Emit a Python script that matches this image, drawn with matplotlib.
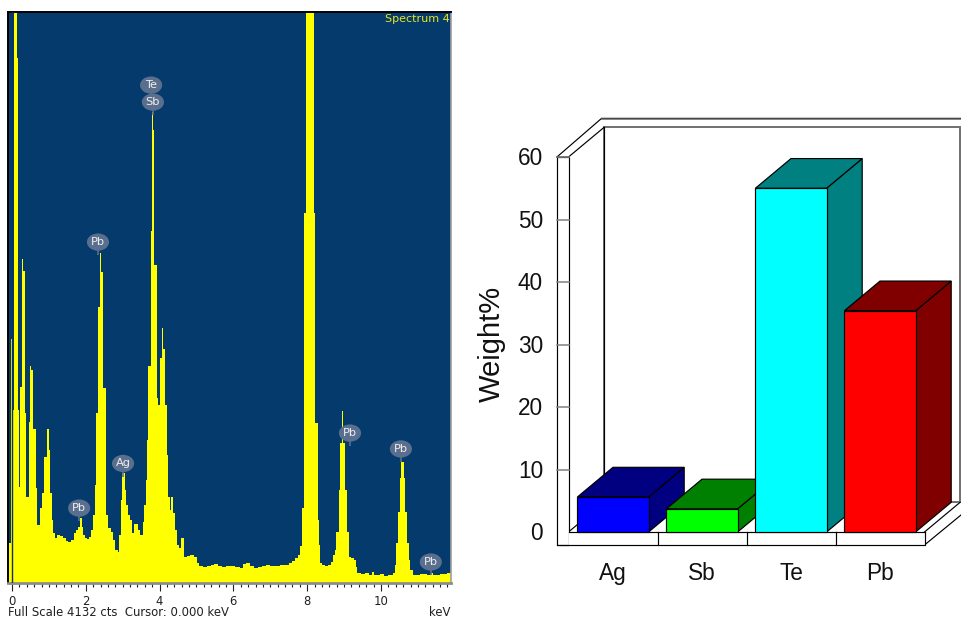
import matplotlib
matplotlib.use("Agg")
import matplotlib.pyplot as plt
from matplotlib.patches import Ellipse, Polygon

plt.rcParams['font.family'] = ['Liberation Sans', 'DejaVu Sans']
SMALL = 'DejaVu Sans'

# ---- EDS spectrum (left edge of each step in keV, counts) ----
energy = [-0.11,-0.03,0.0,0.04,0.05,0.14,0.15,0.19,0.22,0.27,0.29,0.35,0.38,0.45,0.47,0.49,0.51,0.57,0.65,0.68,
          0.76,0.81,0.87,0.96,1.00,1.03,1.08,1.11,1.17,1.22,1.30,1.38,1.46,1.52,1.60,1.68,1.73,1.79,1.84,1.90,
          1.92,1.98,2.03,2.09,2.14,2.20,2.25,2.29,2.33,2.38,2.41,2.47,2.55,2.60,2.68,2.74,2.79,2.87,2.91,2.95,
          2.99,3.06,3.09,3.14,3.20,3.25,3.32,3.41,3.47,3.54,3.58,3.63,3.66,3.69,3.77,3.79,3.82,3.86,3.93,3.96,
          4.01,4.06,4.10,4.16,4.19,4.23,4.28,4.31,4.36,4.42,4.47,4.53,4.58,4.66,4.74,4.82,4.93,5.01,5.07,5.18,
          5.28,5.39,5.47,5.58,5.69,5.80,5.91,6.04,6.18,6.26,6.34,6.45,6.56,6.67,6.78,6.88,6.99,7.13,7.26,7.40,
          7.51,7.59,7.67,7.75,7.80,7.85,7.91,7.98,8.18,8.22,8.28,8.32,8.35,8.40,8.48,8.56,8.64,8.70,8.75,8.79,
          8.85,8.89,8.93,8.97,9.02,9.08,9.13,9.19,9.27,9.32,9.35,9.46,9.57,9.67,9.76,9.81,9.97,10.08,10.19,10.33,
          10.37,10.41,10.45,10.52,10.54,10.61,10.66,10.70,10.75,10.79,10.87,11.05,11.25,11.35,11.40,11.60,11.80,11.90]
counts = [289,1766,0,1252,4300,3799,1252,695,1418,2344,2258,1230,622,687,1165,1570,1541,1114,687,420,
          543,651,912,1114,962,651,456,362,326,347,340,326,304,297,311,362,384,405,470,405,
          347,326,318,333,384,492,709,1230,1997,2388,2250,1411,492,398,369,311,239,224,347,601,
          796,673,564,492,456,362,427,384,347,441,564,745,1035,1570,2547,3408,3278,2301,1339,1288,
          1628,1845,1693,1288,926,622,528,622,507,384,275,253,326,188,195,203,188,145,123,116,
          123,130,137,123,116,123,123,116,109,137,145,123,109,116,123,130,123,123,127,130,
          145,159,181,203,268,543,2677,4400,2677,1158,456,275,145,130,123,130,152,203,239,369,
          673,1013,1245,1013,673,369,188,181,166,116,72,65,72,58,80,58,65,51,58,72,
          130,289,514,760,876,760,514,289,166,94,58,65,58,72,58,65,72,72]

peak_names = ['Te','Sb','Pb','Ag','Pb','Pb','Pb','Pb']
peak_energy = [3.77,3.82,2.33,3.01,1.82,9.16,10.54,11.35]
peak_counts = [3603,3480,2467,865,542,1085,970,152]

# ---- Weight% bars ----
elements = ['Ag','Sb','Te','Pb']
weights = [5.6,3.7,55.0,35.4]
front_colors = ['#0000FF','#00FF00','#00FFFF','#FF0000']
shade_colors = ['#000080','#008000','#008080','#800000']
y_ticks = [0,10,20,30,40,50,60]

W, H = 961, 618
fig = plt.figure(figsize=(W/100, H/100), dpi=100, facecolor='white')

# ---------- spectrum panel ----------
ax = fig.add_axes([8/W, (H-583)/H, 443/W, 571/H], facecolor='#053A6C')
ax.fill_between(energy, counts, step='post', color='#FFFF00', lw=0, zorder=2)
ax.axvline(0, color='#10305A', lw=1, zorder=3)
ax.set_xlim(-0.108, 11.897)
ax.set_ylim(0, 4132)
ax.set_yticks([])
ax.set_xticks(range(0, 12, 2))
ax.set_xticks([i*0.2 for i in range(0, 60)], minor=True)
ax.tick_params(axis='x', which='major', length=6, width=0.8, labelsize=8.4, pad=2.5, colors='#202020')
ax.tick_params(axis='x', which='minor', length=3, width=0.8, color='#202020')
for lab in ax.get_xticklabels():
    lab.set_fontfamily(SMALL)
for s in ('left', 'top'):
    ax.spines[s].set_color('black'); ax.spines[s].set_linewidth(1.4)
ax.spines['right'].set_color('#A0A0A0'); ax.spines['right'].set_linewidth(1.2)
ax.spines['bottom'].set_color('#8C8C8C'); ax.spines['bottom'].set_linewidth(2)

for name, e, c in zip(peak_names, peak_energy, peak_counts):
    ax.plot([e, e], [c-95, c], color='#5A6E8E', lw=1.2, zorder=4, solid_capstyle='butt')
    ax.add_patch(Ellipse((e, c), 0.60, 125, fc='#5A6E8E', ec='none', zorder=5))
    ax.text(e, c, name, color='#F0F0F0', fontsize=8.2, family=SMALL, ha='center', va='center', zorder=6)

ax.text(0.998, 0.987, 'Spectrum 4', transform=ax.transAxes, color='#E6E620',
        fontsize=8.0, family=SMALL, ha='right', va='center')
fig.text(8/W, (H-612.5)/H, 'Full Scale 4132 cts  Cursor: 0.000 keV', fontsize=8.4, family=SMALL,
         color='#202020', ha='left', va='center')
fig.text(451/W, (H-612.5)/H, 'keV', fontsize=8.4, family=SMALL, color='#202020', ha='right', va='center')

# ---------- 3-D style bar panel ----------
bx = fig.add_axes([470/W, (H-600)/H, 491/W, 500/H])
bx.axis('off')
bx.set_xlim((470-613)/89, (961-613)/89)
bx.set_ylim(-68/6.25, 432/6.25)

DX, DY = 0.40, 4.75
L, R = -0.5, 3.5
OL, FB, YTOP = -0.63, -2.08, 60
LW = 0.85
BK = dict(ec='black', lw=LW, joinstyle='miter')

# back wall and floor
bx.add_patch(Polygon([(L+DX, DY), (R+DX, DY), (R+DX, YTOP+DY), (L+DX, YTOP+DY)],
                     fc='white', ec='#707070', lw=1.4, zorder=1))
bx.plot([L+DX, L+DX], [DY, YTOP+DY], color='black', lw=LW, zorder=2)
bx.plot([L, L+DX], [0, DY], color='black', lw=LW, zorder=2)
bx.plot([R, R+DX], [0, DY], color='black', lw=LW, zorder=2)
bx.plot([R, R+DX+0.01], [FB, FB+4.8], color='black', lw=LW, zorder=2, clip_on=False)
# left wall strip
bx.add_patch(Polygon([(OL, FB), (L, FB), (L, YTOP), (OL, YTOP)], fc='white', ec='black', lw=LW, zorder=2))
bx.plot([OL, L], [YTOP, YTOP], color='#707070', lw=1.3, zorder=3)
bx.plot([OL, -0.135, 3.91], [YTOP, 66.1, 66.1], color='black', lw=LW, zorder=2)
bx.plot([-0.135, 3.91], [66.35, 66.35], color='#C8C8C8', lw=0.8, zorder=1)
bx.plot([L, L+DX], [YTOP, YTOP+DY], color='black', lw=LW, zorder=2)
for t in y_ticks[1:-1]:
    bx.plot([OL, L], [t, t], color='#808080', lw=1.1, zorder=3)

# floor strip
bx.add_patch(Polygon([(OL, FB), (R, FB), (R, 0), (L, 0), (L, FB)], fc='white', ec='none', zorder=2))
bx.plot([OL, R, R], [FB, FB, 0], color='black', lw=LW, zorder=3)
bx.plot([L, R], [0, 0], color='black', lw=LW, zorder=3)
for i in range(1, len(elements)):
    bx.plot([i-0.5, i-0.5], [FB, 0], color='black', lw=LW, zorder=3)

hw = 0.4
for i, (v, fc, sc) in enumerate(zip(weights, front_colors, shade_colors)):
    z = 4 + i
    x0, x1 = i-hw, i+hw
    bx.add_patch(Polygon([(x1, 0), (x1+DX, DY), (x1+DX, v+DY), (x1, v)], fc=sc, zorder=z, **BK))
    bx.add_patch(Polygon([(x0, v), (x1, v), (x1+DX, v+DY), (x0+DX, v+DY)], fc=sc, zorder=z, **BK))
    bx.add_patch(Polygon([(x0, 0), (x1, 0), (x1, v), (x0, v)], fc=fc, zorder=z, **BK))
    bx.text(i, -6.6, elements[i], fontsize=16.3, ha='center', va='center', color='#111111')

for t in y_ticks:
    bx.text((543-613)/89, t-0.3, str(t), fontsize=16.3, ha='right', va='center', color='#111111')
bx.text((492-613)/89, (532-344)/6.25, 'Weight%', fontsize=21, rotation=90, ha='center', va='center', color='#111111')

fig.savefig('out.png', dpi=100)
